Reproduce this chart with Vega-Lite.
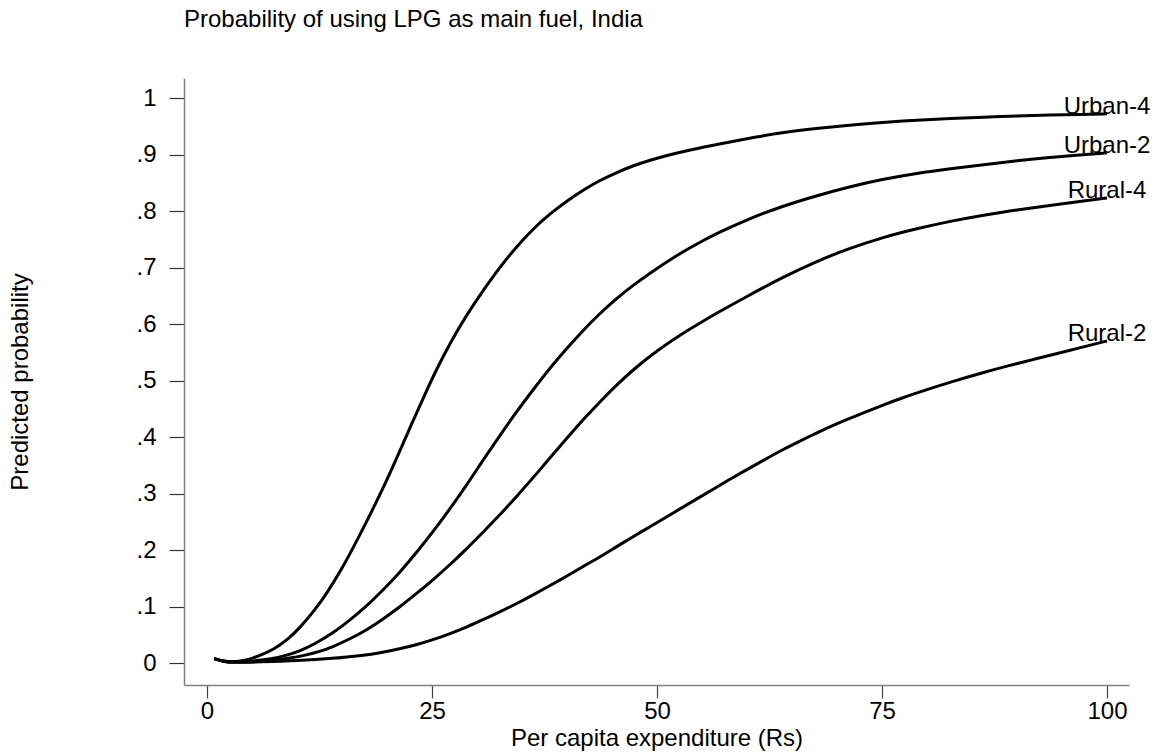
{
  "$schema": "https://vega.github.io/schema/vega-lite/v6.json",
  "width": 945,
  "height": 607,
  "autosize": {"type": "none"},
  "padding": {"left": 184, "top": 78, "right": 28, "bottom": 68},
  "background": "white",
  "title": {"text": "Probability of using LPG as main fuel, India", "anchor": "start", "frame": "group", "fontSize": 24, "font": "Liberation Sans", "fontWeight": "normal", "color": "black", "offset": 46},
  "config": {"view": {"stroke": null}, "font": "Liberation Sans"},
  "datasets": {
    "curves": [
      {"series": "Urban-4", "x": 0.8, "y": 0.008}, {"series": "Urban-4", "x": 2, "y": 0.002}, {"series": "Urban-4", "x": 3, "y": 0.002}, {"series": "Urban-4", "x": 4, "y": 0.004}, {"series": "Urban-4", "x": 5, "y": 0.008}, {"series": "Urban-4", "x": 6, "y": 0.014}, {"series": "Urban-4", "x": 7.4, "y": 0.024}, {"series": "Urban-4", "x": 9, "y": 0.042}, {"series": "Urban-4", "x": 10.3, "y": 0.062}, {"series": "Urban-4", "x": 12, "y": 0.094}, {"series": "Urban-4", "x": 13.3, "y": 0.123}, {"series": "Urban-4", "x": 15, "y": 0.167}, {"series": "Urban-4", "x": 16.6, "y": 0.215}, {"series": "Urban-4", "x": 18.3, "y": 0.268}, {"series": "Urban-4", "x": 20, "y": 0.324}, {"series": "Urban-4", "x": 21.5, "y": 0.378}, {"series": "Urban-4", "x": 22.7, "y": 0.422}, {"series": "Urban-4", "x": 24, "y": 0.468}, {"series": "Urban-4", "x": 25.5, "y": 0.52}, {"series": "Urban-4", "x": 27, "y": 0.566}, {"series": "Urban-4", "x": 28.8, "y": 0.615}, {"series": "Urban-4", "x": 30.7, "y": 0.66}, {"series": "Urban-4", "x": 32.5, "y": 0.7}, {"series": "Urban-4", "x": 34.4, "y": 0.737}, {"series": "Urban-4", "x": 36.2, "y": 0.768}, {"series": "Urban-4", "x": 38.1, "y": 0.795}, {"series": "Urban-4", "x": 40, "y": 0.818}, {"series": "Urban-4", "x": 41.8, "y": 0.837}, {"series": "Urban-4", "x": 43.6, "y": 0.854}, {"series": "Urban-4", "x": 45.5, "y": 0.868}, {"series": "Urban-4", "x": 47.3, "y": 0.88}, {"series": "Urban-4", "x": 49.2, "y": 0.89}, {"series": "Urban-4", "x": 52, "y": 0.902}, {"series": "Urban-4", "x": 54.8, "y": 0.912}, {"series": "Urban-4", "x": 58, "y": 0.922}, {"series": "Urban-4", "x": 61, "y": 0.931}, {"series": "Urban-4", "x": 64, "y": 0.939}, {"series": "Urban-4", "x": 67.7, "y": 0.946}, {"series": "Urban-4", "x": 71.4, "y": 0.952}, {"series": "Urban-4", "x": 75, "y": 0.957}, {"series": "Urban-4", "x": 78.9, "y": 0.961}, {"series": "Urban-4", "x": 82.6, "y": 0.964}, {"series": "Urban-4", "x": 86.3, "y": 0.966}, {"series": "Urban-4", "x": 90, "y": 0.968}, {"series": "Urban-4", "x": 93.7, "y": 0.97}, {"series": "Urban-4", "x": 97, "y": 0.971}, {"series": "Urban-4", "x": 100, "y": 0.972},

      {"series": "Urban-2", "x": 0.8, "y": 0.008}, {"series": "Urban-2", "x": 2, "y": 0.002}, {"series": "Urban-2", "x": 3, "y": 0.002}, {"series": "Urban-2", "x": 5, "y": 0.003}, {"series": "Urban-2", "x": 7, "y": 0.007}, {"series": "Urban-2", "x": 8.5, "y": 0.012}, {"series": "Urban-2", "x": 10.3, "y": 0.021}, {"series": "Urban-2", "x": 12, "y": 0.034}, {"series": "Urban-2", "x": 14, "y": 0.053}, {"series": "Urban-2", "x": 15.8, "y": 0.075}, {"series": "Urban-2", "x": 17.7, "y": 0.1}, {"series": "Urban-2", "x": 19.5, "y": 0.128}, {"series": "Urban-2", "x": 21.4, "y": 0.16}, {"series": "Urban-2", "x": 23.2, "y": 0.194}, {"series": "Urban-2", "x": 25.1, "y": 0.232}, {"series": "Urban-2", "x": 27, "y": 0.273}, {"series": "Urban-2", "x": 28.9, "y": 0.316}, {"series": "Urban-2", "x": 30.7, "y": 0.36}, {"series": "Urban-2", "x": 32.6, "y": 0.404}, {"series": "Urban-2", "x": 34.4, "y": 0.445}, {"series": "Urban-2", "x": 36.3, "y": 0.485}, {"series": "Urban-2", "x": 38.1, "y": 0.522}, {"series": "Urban-2", "x": 40, "y": 0.557}, {"series": "Urban-2", "x": 41.8, "y": 0.589}, {"series": "Urban-2", "x": 43.6, "y": 0.618}, {"series": "Urban-2", "x": 45.5, "y": 0.645}, {"series": "Urban-2", "x": 47.3, "y": 0.668}, {"series": "Urban-2", "x": 49.2, "y": 0.69}, {"series": "Urban-2", "x": 52, "y": 0.72}, {"series": "Urban-2", "x": 54.8, "y": 0.745}, {"series": "Urban-2", "x": 56.6, "y": 0.76}, {"series": "Urban-2", "x": 60, "y": 0.785}, {"series": "Urban-2", "x": 64, "y": 0.809}, {"series": "Urban-2", "x": 67.7, "y": 0.827}, {"series": "Urban-2", "x": 71.4, "y": 0.843}, {"series": "Urban-2", "x": 75, "y": 0.856}, {"series": "Urban-2", "x": 78.9, "y": 0.867}, {"series": "Urban-2", "x": 82.6, "y": 0.875}, {"series": "Urban-2", "x": 86.3, "y": 0.882}, {"series": "Urban-2", "x": 90, "y": 0.889}, {"series": "Urban-2", "x": 93.7, "y": 0.895}, {"series": "Urban-2", "x": 97, "y": 0.899}, {"series": "Urban-2", "x": 100, "y": 0.903},

      {"series": "Rural-4", "x": 0.8, "y": 0.008}, {"series": "Rural-4", "x": 2, "y": 0.002}, {"series": "Rural-4", "x": 3, "y": 0.002}, {"series": "Rural-4", "x": 5, "y": 0.002}, {"series": "Rural-4", "x": 7, "y": 0.004}, {"series": "Rural-4", "x": 9, "y": 0.008}, {"series": "Rural-4", "x": 11, "y": 0.014}, {"series": "Rural-4", "x": 12.5, "y": 0.02}, {"series": "Rural-4", "x": 14, "y": 0.029}, {"series": "Rural-4", "x": 15.8, "y": 0.042}, {"series": "Rural-4", "x": 17.7, "y": 0.058}, {"series": "Rural-4", "x": 19.5, "y": 0.077}, {"series": "Rural-4", "x": 21.4, "y": 0.099}, {"series": "Rural-4", "x": 23.2, "y": 0.122}, {"series": "Rural-4", "x": 25.1, "y": 0.147}, {"series": "Rural-4", "x": 27, "y": 0.174}, {"series": "Rural-4", "x": 28.9, "y": 0.203}, {"series": "Rural-4", "x": 30.7, "y": 0.232}, {"series": "Rural-4", "x": 32.6, "y": 0.263}, {"series": "Rural-4", "x": 34.4, "y": 0.295}, {"series": "Rural-4", "x": 36.3, "y": 0.329}, {"series": "Rural-4", "x": 38.1, "y": 0.363}, {"series": "Rural-4", "x": 40, "y": 0.398}, {"series": "Rural-4", "x": 41.8, "y": 0.431}, {"series": "Rural-4", "x": 43.7, "y": 0.463}, {"series": "Rural-4", "x": 45.5, "y": 0.492}, {"series": "Rural-4", "x": 47.4, "y": 0.52}, {"series": "Rural-4", "x": 50, "y": 0.553}, {"series": "Rural-4", "x": 52.9, "y": 0.584}, {"series": "Rural-4", "x": 54.8, "y": 0.602}, {"series": "Rural-4", "x": 56.6, "y": 0.619}, {"series": "Rural-4", "x": 60, "y": 0.649}, {"series": "Rural-4", "x": 64, "y": 0.683}, {"series": "Rural-4", "x": 67.7, "y": 0.711}, {"series": "Rural-4", "x": 71.4, "y": 0.734}, {"series": "Rural-4", "x": 75, "y": 0.753}, {"series": "Rural-4", "x": 78.9, "y": 0.769}, {"series": "Rural-4", "x": 82.6, "y": 0.782}, {"series": "Rural-4", "x": 86.3, "y": 0.793}, {"series": "Rural-4", "x": 90, "y": 0.802}, {"series": "Rural-4", "x": 93.7, "y": 0.81}, {"series": "Rural-4", "x": 97, "y": 0.817}, {"series": "Rural-4", "x": 100, "y": 0.823},

      {"series": "Rural-2", "x": 0.8, "y": 0.008}, {"series": "Rural-2", "x": 2, "y": 0.002}, {"series": "Rural-2", "x": 3, "y": 0.001}, {"series": "Rural-2", "x": 6, "y": 0.002}, {"series": "Rural-2", "x": 10, "y": 0.004}, {"series": "Rural-2", "x": 14, "y": 0.008}, {"series": "Rural-2", "x": 17.7, "y": 0.014}, {"series": "Rural-2", "x": 19.5, "y": 0.019}, {"series": "Rural-2", "x": 21.4, "y": 0.025}, {"series": "Rural-2", "x": 23.2, "y": 0.032}, {"series": "Rural-2", "x": 25.1, "y": 0.041}, {"series": "Rural-2", "x": 27, "y": 0.052}, {"series": "Rural-2", "x": 28.9, "y": 0.064}, {"series": "Rural-2", "x": 30.7, "y": 0.077}, {"series": "Rural-2", "x": 32.6, "y": 0.091}, {"series": "Rural-2", "x": 34.4, "y": 0.105}, {"series": "Rural-2", "x": 36.3, "y": 0.121}, {"series": "Rural-2", "x": 38.1, "y": 0.137}, {"series": "Rural-2", "x": 40, "y": 0.154}, {"series": "Rural-2", "x": 41.8, "y": 0.171}, {"series": "Rural-2", "x": 43.7, "y": 0.188}, {"series": "Rural-2", "x": 45.5, "y": 0.206}, {"series": "Rural-2", "x": 47.4, "y": 0.224}, {"series": "Rural-2", "x": 49.2, "y": 0.241}, {"series": "Rural-2", "x": 51.1, "y": 0.259}, {"series": "Rural-2", "x": 53, "y": 0.277}, {"series": "Rural-2", "x": 54.8, "y": 0.294}, {"series": "Rural-2", "x": 56.6, "y": 0.311}, {"series": "Rural-2", "x": 58.5, "y": 0.329}, {"series": "Rural-2", "x": 60.4, "y": 0.346}, {"series": "Rural-2", "x": 62.2, "y": 0.362}, {"series": "Rural-2", "x": 64, "y": 0.378}, {"series": "Rural-2", "x": 65.9, "y": 0.393}, {"series": "Rural-2", "x": 67.7, "y": 0.407}, {"series": "Rural-2", "x": 69.6, "y": 0.421}, {"series": "Rural-2", "x": 71.4, "y": 0.433}, {"series": "Rural-2", "x": 73.3, "y": 0.445}, {"series": "Rural-2", "x": 75, "y": 0.456}, {"series": "Rural-2", "x": 77, "y": 0.468}, {"series": "Rural-2", "x": 80, "y": 0.484}, {"series": "Rural-2", "x": 83, "y": 0.499}, {"series": "Rural-2", "x": 86, "y": 0.513}, {"series": "Rural-2", "x": 89, "y": 0.526}, {"series": "Rural-2", "x": 92, "y": 0.538}, {"series": "Rural-2", "x": 95, "y": 0.55}, {"series": "Rural-2", "x": 97.5, "y": 0.56}, {"series": "Rural-2", "x": 100, "y": 0.57}
    ],
    "labels": [
      {"label": "Urban-4", "x": 100, "y": 0.972},
      {"label": "Urban-2", "x": 100, "y": 0.903},
      {"label": "Rural-4", "x": 100, "y": 0.823},
      {"label": "Rural-2", "x": 100, "y": 0.57}
    ]
  },
  "layer": [
    {
      "data": {"name": "curves"},
      "mark": {"type": "line", "color": "black", "strokeWidth": 3, "interpolate": "basis"},
      "encoding": {
        "x": {
          "field": "x", "type": "quantitative",
          "scale": {"domain": [-2.556, 102.444], "nice": false, "zero": false},
          "axis": {
            "title": "Per capita expenditure (Rs)",
            "values": [0, 25, 50, 75, 100],
            "grid": false,
            "domainColor": "#808080", "domainWidth": 1.5,
            "tickColor": "#444444", "tickSize": 13, "tickWidth": 1.2,
            "labelFontSize": 24, "labelColor": "black", "labelPadding": 1, "labelFlush": false, "labelFont": "Liberation Sans",
            "titleFontSize": 24, "titleFontWeight": "normal", "titleColor": "black", "titleFont": "Liberation Sans",
            "titleY": 53, "titleBaseline": "middle"
          }
        },
        "y": {
          "field": "y", "type": "quantitative",
          "scale": {"domain": [-0.0389, 1.0354], "nice": false, "zero": false},
          "axis": {
            "title": "Predicted probability",
            "values": [0, 0.1, 0.2, 0.3, 0.4, 0.5, 0.6, 0.7, 0.8, 0.9, 1],
            "labelExpr": "datum.value == 0 ? '0' : datum.value >= 1 ? '1' : '.' + round(datum.value * 10)",
            "grid": false,
            "domainColor": "#808080", "domainWidth": 1.5,
            "tickColor": "#333333", "tickSize": 15, "tickWidth": 1.2,
            "labelFontSize": 24, "labelColor": "black", "labelPadding": 13, "labelFlush": false, "labelFont": "Liberation Sans",
            "titleFontSize": 24, "titleFontWeight": "normal", "titleColor": "black", "titleFont": "Liberation Sans",
            "titleX": -164, "titleY": 303.5, "titleAngle": -90, "titleAlign": "center", "titleBaseline": "middle"
          }
        },
        "detail": {"field": "series", "type": "nominal"}
      }
    },
    {
      "data": {"name": "labels"},
      "mark": {"type": "text", "align": "center", "baseline": "alphabetic", "fontSize": 24, "color": "black", "font": "Liberation Sans"},
      "encoding": {
        "x": {"field": "x", "type": "quantitative"},
        "y": {"field": "y", "type": "quantitative"},
        "text": {"field": "label", "type": "nominal"}
      }
    }
  ]
}
